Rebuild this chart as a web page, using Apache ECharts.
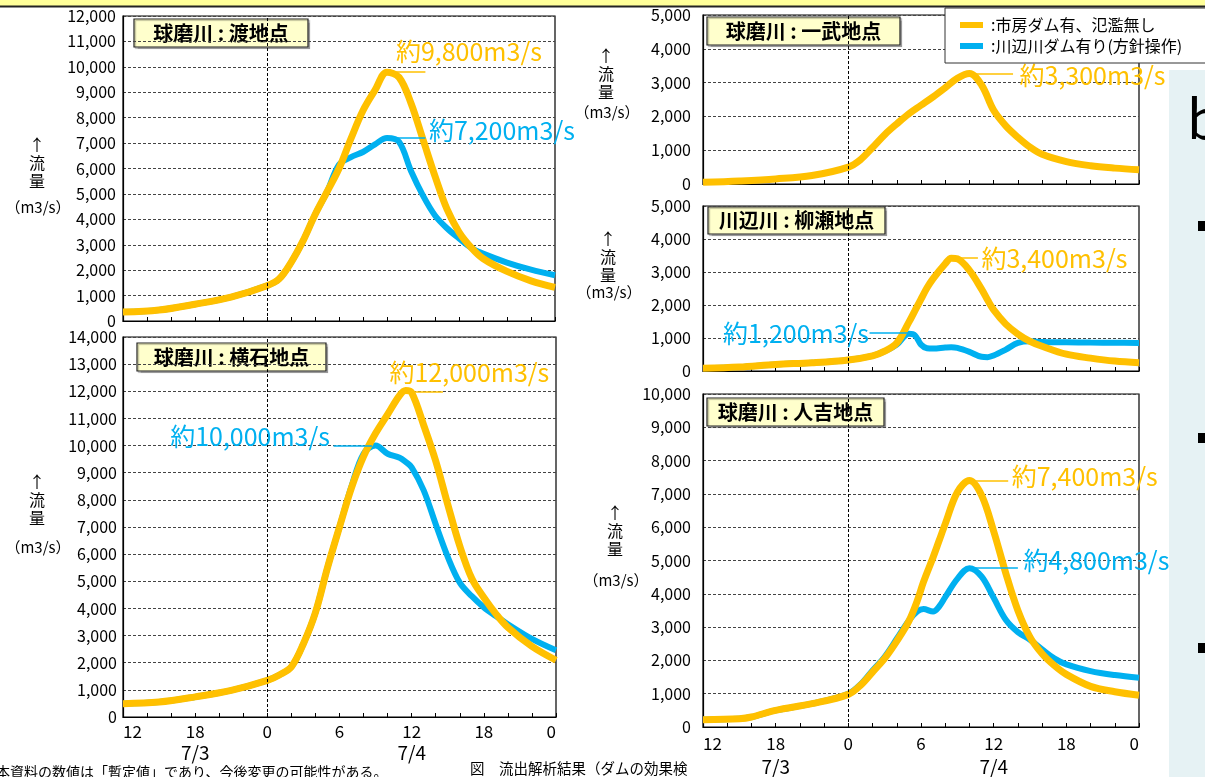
<!DOCTYPE html>
<html><head><meta charset="utf-8">
<script src="https://cdn.jsdelivr.net/npm/echarts@6/dist/echarts.min.js"></script>
<style>html,body{margin:0;padding:0;background:#fff;overflow:hidden}#c{width:1205px;height:777px}</style>
</head><body><div id="c"></div>
<script>
const FONT = '"Noto Sans CJK JP","Noto Sans",sans-serif';
const ORANGE = '#FFC000';
const BLUE = '#00B0F0';
const nameDam = '市房ダム有、氾濫無し';
const nameKawabe = '川辺川ダム有り(方針操作)';

// hours counted from 7/3 12:00 (0) to 7/5 0:00 (36)
const xTickLabels = ['12','18','0','6','12','18','0'];
const dateLabels = {6: '7/3', 24: '7/4'};

// 球磨川:渡地点
const wataruHours  = [0,3,6,9,12,13,14,15,16,17,18,19,20,21,22,23,24,25,26,27,28,29,30,32,34,36];
const wataruDam    = [350,430,660,940,1390,1650,2300,3150,4180,5080,6000,7180,8280,9080,9790,9590,8570,7140,5700,4400,3500,2900,2460,1950,1580,1320];
const wataruKawabe = [350,430,660,940,1390,1650,2300,3150,4180,5080,6150,6450,6650,6950,7200,7050,5900,4930,4150,3650,3250,2880,2650,2300,2020,1800];

// 球磨川:横石地点
const yokoishiHours  = [0,3,6,9,12,13,14,15,16,17,18,19,20,21,22,23,23.5,24,25,26,27,28,29,30,31,32,34,36];
const yokoishiDam    = [490,550,740,980,1350,1550,1850,2700,3850,5500,7000,8450,9600,10450,11150,11850,12030,11950,10750,9430,7830,6300,5100,4400,3800,3300,2600,2090];
const yokoishiKawabe = [490,550,740,980,1350,1550,1850,2700,3850,5500,7000,8500,9700,10000,9700,9550,9400,9200,8350,7100,5900,4950,4450,4040,3720,3420,2880,2460];

// 球磨川:一武地点
const ichibuHours = [0,3,6,9,12,13,14,15,16,17,18,19,20,21,22,23,24,25,26,27,28,30,32,34,36];
const ichibuDam   = [50,90,150,250,500,720,1080,1460,1780,2080,2330,2580,2850,3130,3270,2930,2180,1720,1380,1090,880,660,540,470,420];

// 川辺川:柳瀬地点
const yanaseHours  = [0,3,6,9,12,14,15,16,17,17.5,18,18.5,19,20,20.5,21,22,23,23.5,24,25,26,27,28,30,32,34,36];
const yanaseDam    = [80,120,200,250,335,460,600,850,1480,1830,2180,2520,2800,3250,3420,3400,3050,2480,2150,1850,1420,1120,900,750,510,390,300,250];
const yanaseKawabe = [80,120,200,250,335,460,600,800,1130,1080,800,690,680,710,720,700,580,430,420,470,650,850,900,880,870,860,855,850];

// 球磨川:人吉地点
const hitoyoshiHours  = [0,3,4,6,9,12,13,14,15,16,17,17.7,18.2,19,19.5,20,21,22,23,24,25,26,27,28,29,30,32,34,36];
const hitoyoshiDam    = [220,250,300,500,700,980,1250,1650,2060,2580,3180,3800,4350,5100,5600,6100,7050,7400,6960,5880,4620,3500,2700,2200,1850,1580,1220,1060,955];
const hitoyoshiKawabe = [220,250,300,500,700,1000,1280,1700,2110,2650,3200,3470,3540,3470,3620,3900,4450,4770,4520,3880,3220,2850,2620,2330,2060,1880,1680,1560,1480];

// peak annotations: [text, value, fromHour, toHour]
const wataruPeaks    = {dam: ['約9,800m3/s', 9800, 21.9, 25.2], kawabe: ['約7,200m3/s', 7200, 22.0, 25.2]};
const yokoishiPeaks  = {dam: ['約12,000m3/s', 12000, 23.4, 26.6], kawabe: ['約10,000m3/s', 10000, 17.5, 20.7]};
const ichibuPeaks    = {dam: ['約3,300m3/s', 3270, 22.0, 25.6]};
const yanasePeaks    = {dam: ['約3,400m3/s', 3430, 20.6, 22.7], kawabe: ['約1,200m3/s', 1150, 13.75, 17.2]};
const hitoyoshiPeaks = {dam: ['約7,400m3/s', 7400, 22.0, 25.2], kawabe: ['約4,800m3/s', 4780, 22.2, 26.0]};

const panels = [
  {title:'球磨川 : 渡地点', hours:wataruHours, dam:wataruDam, kawabe:wataruKawabe, peaks:wataruPeaks, yMax:12000,
   grid:{left:123, top:16, width:432, height:305}, labels:false,
   box:[134,19,174,28], axisName:[37,163,207],
   notes:{dam:{pos:'right', at:'to', off:[-30,-20]}, kawabe:{pos:'right', at:'to', off:[3,-8]}}, yMargin:7},
  {title:'球磨川 : 横石地点', hours:yokoishiHours, dam:yokoishiDam, kawabe:yokoishiKawabe, peaks:yokoishiPeaks, yMax:14000,
   grid:{left:123, top:337, width:433, height:380}, labels:true, dateLH:22, xMargin:5,
   box:[137,343,189,28], axisName:[37,500,547],
   notes:{dam:{pos:'right', at:'to', off:[-54,-19]}, kawabe:{pos:'left', at:'from', off:[-3,-9]}}, yMargin:6},
  {title:'球磨川 : 一武地点', hours:ichibuHours, dam:ichibuDam, kawabe:null, peaks:ichibuPeaks, yMax:5000,
   grid:{left:703, top:15, width:436, height:169}, labels:false,
   box:[707,17,193,28], axisName:[606,74,112],
   notes:{dam:{pos:'right', at:'to', off:[6,2]}}, yMargin:12},
  {title:'川辺川 : 柳瀬地点', hours:yanaseHours, dam:yanaseDam, kawabe:yanaseKawabe, peaks:yanasePeaks, yMax:5000,
   grid:{left:703, top:206, width:436, height:165}, labels:false,
   box:[708,207,177,27], axisName:[608,257,292],
   notes:{dam:{pos:'right', at:'to', off:[3,1]}, kawabe:{pos:'left', at:'from', off:[0,0]}}, yMargin:12},
  {title:'球磨川 : 人吉地点', hours:hitoyoshiHours, dam:hitoyoshiDam, kawabe:hitoyoshiKawabe, peaks:hitoyoshiPeaks, yMax:10000,
   grid:{left:703, top:394, width:436, height:333}, labels:true, dateLH:26, xMargin:7,
   box:[707,398,177,28], axisName:[615,531,580],
   notes:{dam:{pos:'right', at:'to', off:[3,-4]}, kawabe:{pos:'right', at:'to', off:[5,-7]}}, yMargin:12}
];

const comma = v => String(v).replace(/\B(?=(\d{3})+(?!\d))/g, ',');

const grids = [], xAxes = [], yAxes = [], series = [], graphics = [];

panels.forEach((p, i) => {
  grids.push(Object.assign({show:true, borderColor:'#000', borderWidth:1.2, backgroundColor:'transparent'}, p.grid));
  xAxes.push({
    type:'value', gridIndex:i, min:0, max:36, interval:2,
    axisLine:{show:true, lineStyle:{color:'#000', width:1.2}},
    axisTick:{show:true, inside:true, length:4, lineStyle:{color:'#000'}},
    splitLine:{show:false},
    axisLabel:{
      show:p.labels, margin:p.xMargin || 6, color:'#000', fontFamily:FONT,
      alignMinLabel:'left', alignMaxLabel:'right',
      formatter: v => {
        if (v % 6 !== 0) return '';
        const t = '{t|' + xTickLabels[v/6] + '}';
        return dateLabels[v] ? t + '\n{d|' + dateLabels[v] + '}' : t;
      },
      rich:{t:{fontSize:17, lineHeight:20, color:'#000', fontFamily:FONT},
            d:{fontSize:19, lineHeight:p.dateLH || 22, color:'#000', fontFamily:FONT}}
    }
  });
  yAxes.push({
    type:'value', gridIndex:i, min:0, max:p.yMax, interval:1000,
    axisLine:{show:true, lineStyle:{color:'#000', width:1.2}},
    axisTick:{show:false},
    splitLine:{show:true, lineStyle:{color:'#444', type:[3,2], width:1}},
    axisLabel:{color:'#000', fontSize:16, fontFamily:FONT, margin:p.yMargin, formatter: v => comma(v)}
  });

  const mk = (kind, color) => {
    const pk = p.peaks[kind], nt = p.notes[kind];
    const anchor = nt.at === 'to' ? pk[3] : pk[2];
    return {
      markLine:{silent:true, symbol:'none', animation:false,
        label:{show:false},
        data:[[{coord:[pk[2], pk[1]], lineStyle:{color:color, width:1.5, type:'solid'}},
               {coord:[pk[3], pk[1]]}]]},
      markPoint:{silent:true, animation:false, symbol:'rect', symbolSize:1,
        itemStyle:{color:'rgba(0,0,0,0)'},
        label:{show:true, position:nt.pos, distance:0, offset:nt.off, color:color,
               fontSize:25, fontFamily:FONT, formatter: pk[0]},
        data:[{coord:[anchor, pk[1]]}]}
    };
  };

  const vlineItem = {xAxis:12, lineStyle:{color:'#000', type:[3,2], width:1}};

  if (p.kawabe) {
    const m = mk('kawabe', BLUE);
    m.markLine.data.push(vlineItem);
    series.push({
      name:nameKawabe, type:'line', xAxisIndex:i, yAxisIndex:i, smooth:0.35, showSymbol:false,
      lineStyle:{color:BLUE, width:6}, itemStyle:{color:BLUE}, z:2, animation:false,
      data:p.hours.map((h,k) => [h, p.kawabe[k]]),
      markLine:m.markLine, markPoint:m.markPoint
    });
  }
  const md = mk('dam', ORANGE);
  if (!p.kawabe) md.markLine.data.push(vlineItem);
  series.push({
    name:nameDam, type:'line', xAxisIndex:i, yAxisIndex:i, smooth:0.35, showSymbol:false,
    lineStyle:{color:ORANGE, width:7}, itemStyle:{color:ORANGE}, z:3, animation:false,
    data:p.hours.map((h,k) => [h, p.dam[k]]),
    markLine:md.markLine, markPoint:md.markPoint
  });

  // title box
  const b = p.box;
  graphics.push({type:'group', z:10, children:[
    {type:'rect', shape:{x:b[0], y:b[1], width:b[2], height:b[3]},
     style:{fill:'#FFFFCC', stroke:'#222', lineWidth:1.2, shadowColor:'rgba(0,0,0,0.25)', shadowOffsetX:1.5, shadowOffsetY:1.5, shadowBlur:1}},
    {type:'text', x:b[0]+b[2]/2, y:b[1]+b[3]/2,
     style:{text:p.title, fill:'#000', font:'bold 20px ' + FONT, textAlign:'center', textVerticalAlign:'middle'}}
  ]});
  // axis name
  const a = p.axisName;
  graphics.push({type:'text', x:a[0], y:a[1], z:10,
    style:{text:'↑\n流\n量', fill:'#000', font:'16px ' + FONT, textAlign:'center', textVerticalAlign:'middle', lineHeight:18}});
  graphics.push({type:'text', x:a[0]+1, y:a[2], z:10,
    style:{text:'（m3/s）', fill:'#000', font:'15px ' + FONT, textAlign:'center', textVerticalAlign:'middle'}});
});

// decorations
graphics.push({type:'rect', z:0, shape:{x:0, y:0, width:1205, height:6}, style:{fill:'#FFFF99'}});
graphics.push({type:'line', z:20, shape:{x1:0, y1:6.5, x2:1205, y2:6.5}, style:{stroke:'#222', lineWidth:2}});
graphics.push({type:'rect', z:0, shape:{x:1169, y:70, width:40, height:710}, style:{fill:'#E6F2F4'}});
graphics.push({type:'text', x:1187, y:118, z:1, style:{text:'b', fill:'#000', font:'54px ' + FONT, textVerticalAlign:'middle'}});
[221, 433, 643].forEach(yy => graphics.push({type:'rect', z:1, shape:{x:1198, y:yy, width:9, height:10}, style:{fill:'#000'}}));
graphics.push({type:'text', x:-4, y:772, z:1, style:{text:'本資料の数値は「暫定値」であり、今後変更の可能性がある。', fill:'#000', font:'14px ' + FONT, textVerticalAlign:'middle'}});
graphics.push({type:'text', x:470, y:768, z:1, style:{text:'図　流出解析結果（ダムの効果検', fill:'#000', font:'14.5px ' + FONT, textVerticalAlign:'middle'}});
graphics.push({type:'rect', z:2, shape:{x:691, y:755, width:10, height:22}, style:{fill:'#fff'}});

const chart = echarts.init(document.getElementById('c'), null, {renderer:'canvas'});
chart.setOption({
  animation:false,
  textStyle:{fontFamily:FONT},
  grid:grids, xAxis:xAxes, yAxis:yAxes, series:series, graphic:graphics,
  legend:{
    data:[nameDam, nameKawabe], orient:'vertical', left:945, top:8, z:20,
    itemWidth:23, itemHeight:6, icon:'rect', itemGap:5,
    padding:[9, 60, 9, 15], backgroundColor:'#fff', borderColor:'#333', borderWidth:1,
    textStyle:{fontSize:16, color:'#000', fontFamily:FONT, padding:[0,0,0,3]},
    formatter: n => ':' + n
  }
});
</script></body></html>
